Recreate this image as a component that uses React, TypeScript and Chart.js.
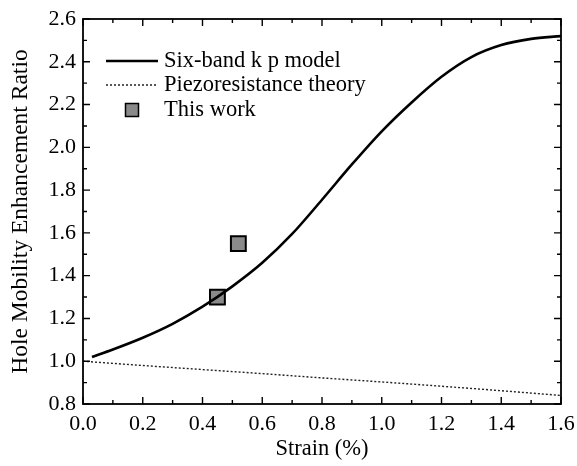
import React, { useEffect, useRef } from "react";
import { Chart, registerables } from "chart.js";

Chart.register(...registerables);

const kpStrain = [0.03, 0.1, 0.2, 0.3, 0.4, 0.5, 0.6, 0.7, 0.8, 0.9, 1.0, 1.1, 1.2, 1.3, 1.4, 1.5, 1.6];
const kpRatio = [1.02, 1.055, 1.11, 1.175, 1.255, 1.35, 1.46, 1.595, 1.755, 1.92, 2.075, 2.21, 2.33, 2.422, 2.478, 2.507, 2.52];

const piezoStrain = [0, 0.2, 0.4, 0.6, 0.8, 1.0, 1.2, 1.4, 1.6];
const piezoRatio = [1.0, 0.98, 0.961, 0.942, 0.922, 0.903, 0.883, 0.862, 0.84];

const workStrain = [0.45, 0.52];
const workRatio = [1.3, 1.55];

const xMajorTicks = [0, 0.2, 0.4, 0.6, 0.8, 1.0, 1.2, 1.4, 1.6];
const xMinorTicks = [0.1, 0.3, 0.5, 0.7, 0.9, 1.1, 1.3, 1.5];
const yMajorTicks = [0.8, 1.0, 1.2, 1.4, 1.6, 1.8, 2.0, 2.2, 2.4, 2.6];
const yMinorTicks = [0.9, 1.1, 1.3, 1.5, 1.7, 1.9, 2.1, 2.3, 2.5];

const legendLabels = ["Six-band k p model", "Piezoresistance theory", "This work"];

const FONT = "'Liberation Serif', 'Times New Roman', serif";
const INK = "#000";

const frameAndTicks = {
  id: "frameAndTicks",
  afterDatasetsDraw(chart: any) {
    const { ctx, chartArea: a, scales } = chart;
    const xs = scales.x;
    const ys = scales.y;
    ctx.save();
    ctx.strokeStyle = INK;
    ctx.lineWidth = 1.8;
    ctx.strokeRect(a.left, a.top, a.right - a.left, a.bottom - a.top);
    ctx.lineWidth = 1.4;
    const drawX = (v: number, len: number) => {
      const px = xs.getPixelForValue(v);
      ctx.beginPath();
      ctx.moveTo(px, a.bottom);
      ctx.lineTo(px, a.bottom - len);
      ctx.moveTo(px, a.top);
      ctx.lineTo(px, a.top + len);
      ctx.stroke();
    };
    const drawY = (v: number, len: number) => {
      const py = ys.getPixelForValue(v);
      ctx.beginPath();
      ctx.moveTo(a.left, py);
      ctx.lineTo(a.left + len, py);
      ctx.moveTo(a.right, py);
      ctx.lineTo(a.right - len, py);
      ctx.stroke();
    };
    xMajorTicks.forEach((v) => drawX(v, 7));
    xMinorTicks.forEach((v) => drawX(v, 4));
    yMajorTicks.forEach((v) => drawY(v, 7));
    yMinorTicks.forEach((v) => drawY(v, 4));
    ctx.restore();
  },
  afterDraw(chart: any) {
    const { ctx, chartArea: a } = chart;
    const x0 = a.left + 23;
    const x1 = a.left + 75;
    const tx = a.left + 81;
    const rows = [a.top + 42, a.top + 66, a.top + 91];
    ctx.save();
    ctx.font = `22.5px ${FONT}`;
    ctx.fillStyle = INK;
    ctx.textBaseline = "middle";
    ctx.textAlign = "left";
    ctx.strokeStyle = INK;
    ctx.lineWidth = 2.6;
    ctx.beginPath();
    ctx.moveTo(x0, rows[0]);
    ctx.lineTo(x1, rows[0]);
    ctx.stroke();
    ctx.fillText(legendLabels[0], tx, rows[0]);
    ctx.lineWidth = 1.4;
    ctx.setLineDash([2, 2]);
    ctx.strokeStyle = "#222";
    ctx.beginPath();
    ctx.moveTo(x0, rows[1]);
    ctx.lineTo(x1, rows[1]);
    ctx.stroke();
    ctx.setLineDash([]);
    ctx.fillText(legendLabels[1], tx, rows[1]);
    const cx = (x0 + x1) / 2;
    ctx.fillStyle = "#8a8a8a";
    ctx.fillRect(cx - 6.5, rows[2] - 6.5, 13, 13);
    ctx.strokeStyle = INK;
    ctx.lineWidth = 1.5;
    ctx.strokeRect(cx - 6.5, rows[2] - 6.5, 13, 13);
    ctx.fillStyle = INK;
    ctx.fillText(legendLabels[2], tx, rows[2]);
    ctx.restore();
  },
};

export default function App() {
  const ref = useRef<HTMLCanvasElement | null>(null);
  useEffect(() => {
    if (!ref.current) return;
    const chart = new Chart(ref.current, {
      type: "scatter",
      data: {
        datasets: [
          {
            type: "line",
            label: legendLabels[0],
            data: kpStrain.map((x, i) => ({ x, y: kpRatio[i] })),
            borderColor: INK,
            borderWidth: 2.6,
            pointRadius: 0,
            cubicInterpolationMode: "monotone",
            fill: false,
          },
          {
            type: "line",
            label: legendLabels[1],
            data: piezoStrain.map((x, i) => ({ x, y: piezoRatio[i] })),
            borderColor: "#222",
            borderWidth: 1.4,
            borderDash: [2, 2],
            pointRadius: 0,
            cubicInterpolationMode: "monotone",
            fill: false,
          },
          {
            type: "scatter",
            label: legendLabels[2],
            data: workStrain.map((x, i) => ({ x, y: workRatio[i] })),
            backgroundColor: "#8a8a8a",
            borderColor: INK,
            borderWidth: 2,
            pointStyle: "rect",
            pointRadius: 10.5,
          },
        ],
      },
      options: {
        responsive: false,
        animation: false,
        layout: { padding: { left: 0, right: 16, top: 19, bottom: 0 } },
        plugins: { legend: { display: false }, tooltip: { enabled: false } },
        scales: {
          x: {
            type: "linear",
            min: 0,
            max: 1.6,
            grid: { display: false, drawTicks: false },
            border: { display: false },
            afterBuildTicks: (s: any) => {
              s.ticks = xMajorTicks.map((v) => ({ value: v }));
            },
            afterFit: (s: any) => {
              s.height = 62;
              s.paddingLeft = 0;
              s.paddingRight = 0;
            },
            ticks: {
              padding: 7,
              color: INK,
              font: { family: FONT, size: 22 },
              callback: (v: any) => Number(v).toFixed(1),
              maxRotation: 0,
              autoSkip: false,
            },
            title: {
              display: true,
              text: "Strain (%)",
              color: INK,
              font: { family: FONT, size: 22.5 },
              padding: { top: 0, bottom: 3 },
            },
          },
          y: {
            type: "linear",
            min: 0.8,
            max: 2.6,
            grid: { display: false, drawTicks: false },
            border: { display: false },
            afterBuildTicks: (s: any) => {
              s.ticks = yMajorTicks.map((v) => ({ value: v }));
            },
            afterFit: (s: any) => {
              s.width = 83;
              s.paddingTop = 0;
              s.paddingBottom = 0;
            },
            ticks: {
              padding: 7,
              color: INK,
              font: { family: FONT, size: 22 },
              callback: (v: any) => Number(v).toFixed(1),
              autoSkip: false,
            },
            title: {
              display: true,
              text: "Hole Mobility Enhancement Ratio",
              color: INK,
              font: { family: FONT, size: 23.5 },
              padding: { top: 7, bottom: 0 },
            },
          },
        },
      },
      plugins: [frameAndTicks],
    } as any);
    return () => chart.destroy();
  }, []);
  return (
    <div style={{ position: "fixed", left: 0, top: 0, width: 577, height: 466, background: "#fff" }}>
      <canvas ref={ref} width={577} height={466} style={{ display: "block" }} />
    </div>
  );
}
